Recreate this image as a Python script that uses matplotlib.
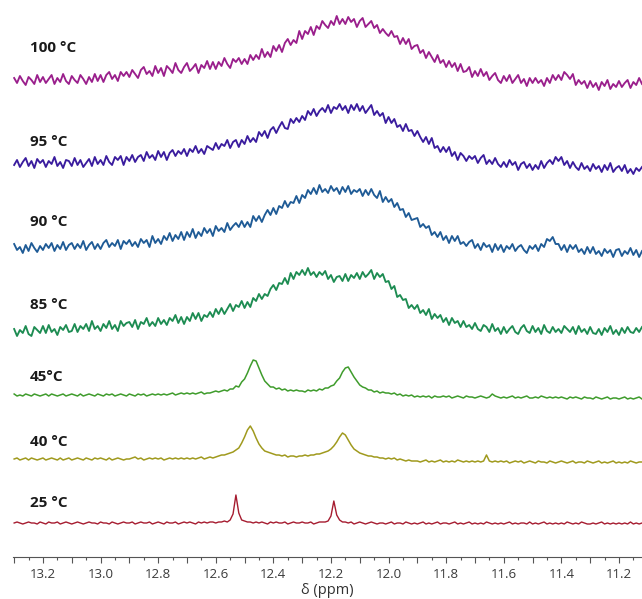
import numpy as np
import matplotlib
matplotlib.use('Agg')
import matplotlib.pyplot as plt
from matplotlib.ticker import MultipleLocator, FuncFormatter

# chemical shift grid of the spectra (ppm), 0.01 ppm steps
ppm = np.linspace(13.30, 11.12, 219)

labels = ['100 °C', '95 °C', '90 °C', '85 °C', '45°C', '40 °C', '25 °C']

# intensities (a.u.), one list per temperature
I_100 = [2, -3, 4, -1, -5, 3, 0, -4, 5, -2,
         3, -3, 1, 5, -4, 2, -2, 6, -1, -4,
         4, 0, -3, 5, 1, -4, 3, -2, 6, -1,
         5, -2, 5, 8, 1, 5, -1, 8, 4, 8,
         3, 10, 6, 2, 10, 13, 6, 9, 4, 14,
         7, 12, 4, 14, 11, 7, 17, 10, 7, 13,
         17, 9, 12, 16, 7, 15, 12, 19, 11, 18,
         11, 18, 14, 22, 16, 12, 21, 18, 22, 16,
         21, 16, 25, 20, 25, 21, 31, 23, 28, 23,
         34, 29, 35, 28, 37, 41, 35, 40, 37, 49,
         41, 49, 46, 53, 45, 54, 51, 59, 55, 52,
         59, 55, 64, 56, 61, 56, 63, 58, 61, 53,
         59, 62, 53, 56, 59, 52, 55, 47, 51, 47,
         44, 49, 43, 44, 36, 42, 36, 41, 31, 34,
         35, 27, 30, 22, 28, 23, 18, 25, 17, 20,
         13, 19, 13, 17, 9, 16, 8, 9, 13, 3,
         9, 4, 11, 4, 8, 0, 4, 7, 0, -3,
         4, -1, 5, -3, 1, 5, -3, 1, -6, 2,
         -3, 2, -3, 0, -6, 2, -3, 5, 0, 5,
         0, 8, 5, 1, 6, -5, 0, -4, -1, -8,
         -1, -7, -3, -10, -2, -6, 0, -9, -4, -7,
         -1, -7, -3, 0, -8, -2, -5, 2, -4]

I_95 = [-2, 3, -4, 1, 5, -3, 2, -5, 4, 0,
        3, -4, 2, -1, 6, -3, 1, -5, 3, 2,
        -3, 5, -2, 3, -4, 0, 4, -3, 6, -1,
        3, -2, 7, 1, -2, 6, 3, 7, -2, 6,
        2, 8, 1, 6, 8, 2, 11, 5, 8, 3,
        12, 6, 11, 3, 10, 13, 7, 12, 9, 14,
        7, 14, 11, 17, 10, 14, 9, 17, 15, 13,
        20, 14, 19, 17, 23, 15, 21, 23, 16, 23,
        19, 27, 21, 25, 21, 31, 27, 32, 25, 33,
        36, 30, 36, 41, 35, 34, 44, 40, 45, 41,
        47, 43, 52, 48, 54, 47, 52, 55, 51, 58,
        50, 56, 54, 59, 53, 57, 50, 58, 53, 59,
        52, 57, 50, 54, 58, 48, 52, 47, 50, 40,
        46, 40, 44, 36, 38, 32, 39, 32, 33, 27,
        32, 26, 21, 26, 19, 25, 15, 17, 11, 16,
        11, 16, 7, 11, 3, 10, 7, 2, 7, 4,
        7, 0, 5, 8, -1, 3, -1, 5, -1, -4,
        1, -4, 3, -2, 1, -7, -1, 1, -5, -1,
        -7, -2, -6, 2, -5, 0, 3, -1, 6, 2,
        6, -2, 2, -5, 1, -4, -7, 0, -6, -3,
        -8, -1, -6, -3, -9, -2, -7, 0, -9, -5,
        -3, -8, -2, -10, -6, -11, -5, -8, -4]

I_90 = [4, -2, 1, -5, 3, -3, 5, 0, -4, 2,
        -2, 4, 0, 5, -3, 3, -1, 6, -2, 3,
        5, -1, 4, 0, 7, -2, 3, 6, -1, 4,
        -1, 5, 8, 1, 5, 2, 8, -1, 7, 4,
        8, 2, 6, 1, 9, 5, 8, 1, 12, 5,
        9, 4, 12, 8, 15, 7, 13, 9, 16, 8,
        16, 11, 19, 10, 16, 12, 20, 15, 19, 12,
        22, 17, 20, 16, 25, 18, 22, 25, 21, 27,
        21, 26, 21, 32, 27, 32, 26, 33, 38, 33,
        40, 34, 42, 40, 47, 41, 46, 45, 52, 45,
        53, 50, 58, 54, 60, 54, 63, 56, 59, 55,
        62, 57, 60, 54, 61, 56, 62, 54, 58, 56,
        59, 52, 58, 53, 59, 53, 50, 57, 46, 51,
        46, 49, 41, 45, 38, 39, 31, 35, 28, 29,
        30, 21, 24, 20, 22, 13, 16, 11, 16, 8,
        12, 5, 12, 7, 12, 4, 6, 2, 6, 8,
        0, 4, -2, 5, 1, 3, -4, 4, -2, 3,
        -4, 2, -1, 4, -3, 1, 3, -2, -5, 2,
        -1, 3, -3, 4, 1, 9, 7, 11, 4, 4,
        -2, 3, -4, 3, -1, 3, -4, -1, -6, 1,
        -5, 1, -6, -3, -8, -1, -5, -2, -9, -2,
        -1, -8, -3, -6, 0, -7, -2, -9, -3]

I_85 = [3, -4, 2, -1, 6, -2, -4, 5, 2, -1,
        6, -1, 7, 0, 3, -3, 5, 2, 7, 0,
        1, 8, 0, 6, 3, 8, 1, 11, 3, 6,
        1, 8, 4, 11, 3, 7, 1, 11, 6, 9,
        10, 5, 12, 3, 10, 8, 14, 6, 10, 6,
        14, 8, 12, 7, 14, 11, 17, 9, 15, 8,
        15, 11, 19, 13, 19, 11, 17, 15, 20, 15,
        23, 18, 24, 18, 23, 28, 21, 27, 25, 31,
        24, 30, 25, 34, 31, 38, 33, 38, 36, 43,
        47, 42, 49, 48, 54, 48, 59, 53, 60, 57,
        62, 57, 64, 57, 60, 55, 60, 57, 61, 53,
        57, 50, 55, 56, 51, 58, 51, 57, 54, 59,
        53, 60, 55, 58, 62, 53, 59, 55, 58, 50,
        51, 43, 46, 35, 37, 32, 33, 24, 27, 23,
        27, 19, 22, 17, 23, 13, 18, 14, 17, 10,
        14, 7, 14, 9, 11, 5, 11, 5, 7, 3,
        9, 3, 1, 7, 5, 0, 8, 1, 4, -2,
        5, -1, 3, 6, 0, -2, 4, 7, 1, -1,
        6, 0, 4, -2, 7, 1, -1, 5, 0, 3,
        -1, 6, 3, 0, 5, -2, 6, 0, 3, -2,
        5, -1, -2, 3, -3, 4, 0, 6, -2, 2,
        -3, 4, -1, 5, 0, -1, 4, 0, 5]

I_45 = [1, -1, 0, -1, 1, 0, -1, 1, 0, -1,
        0, 1, -1, 1, 0, -1, 0, 1, -1, 0,
        1, 0, -1, 1, -1, 0, 1, 0, -1, 1,
        0, -1, 1, 0, 1, -1, 0, 1, 0, -1,
        1, 0, -1, 1, 0, 1, -1, 0, 1, 0,
        1, 0, 1, 0, 1, 2, 0, 1, 2, 1,
        2, 1, 2, 1, 2, 3, 1, 2, 2, 3,
        4, 3, 4, 5, 4, 6, 6, 9, 8, 13,
        16, 22, 29, 35, 34, 27, 20, 14, 11, 8,
        8, 6, 7, 5, 6, 4, 5, 4, 5, 4,
        4, 3, 5, 4, 5, 4, 6, 5, 7, 7,
        9, 10, 14, 17, 23, 27, 28, 23, 18, 14,
        10, 8, 7, 5, 5, 3, 4, 2, 3, 2,
        2, 1, 2, 0, 1, -1, 0, -1, 0, -2,
        -1, -2, -1, -2, -1, -3, -1, -2, -2, -1,
        -2, -1, -3, -2, -1, -2, -3, -1, -2, -2,
        -3, -2, -1, -2, -3, -2, 1, -1, -2, -3,
        -2, -3, -2, -1, -3, -2, -3, -2, -1, -3,
        -3, -2, -3, -1, -2, -3, -2, -3, -2, -3,
        -2, -3, -4, -2, -3, -2, -3, -4, -2, -3,
        -3, -4, -2, -3, -4, -3, -2, -4, -3, -3,
        -4, -3, -2, -4, -3, -4, -3, -2, -4]

I_40 = [0, 1, -1, 0, 1, -1, 1, 0, -1, 0,
        1, -1, 0, 1, 0, -1, 1, -1, 0, 1,
        -1, 0, 1, 0, -1, 1, 0, -1, 1, 0,
        1, 0, -1, 1, -1, 0, 1, 0, -1, 0,
        0, 1, 2, 0, 1, -1, 0, 1, 0, 1,
        0, 1, -1, 0, 1, 0, 1, 0, 1, 0,
        1, 0, 1, 0, 1, 2, 0, 1, 2, 1,
        2, 3, 4, 4, 5, 6, 7, 9, 11, 16,
        22, 29, 33, 28, 21, 15, 11, 8, 7, 6,
        5, 4, 4, 3, 4, 2, 3, 3, 2, 3,
        3, 4, 3, 4, 4, 5, 5, 6, 7, 8,
        10, 13, 17, 22, 26, 24, 19, 14, 10, 8,
        6, 5, 4, 3, 3, 2, 2, 1, 1, 0,
        1, 0, 1, -1, 0, -1, -2, -1, -2, -2,
        -2, -3, -2, -1, -3, -2, -3, -2, -1, -3,
        -2, -3, -2, -3, -1, -2, -3, -2, -3, -2,
        -3, -2, -3, -2, 4, -2, -3, -2, -3, -2,
        -3, -2, -4, -3, -2, -3, -2, -4, -3, -2,
        -3, -4, -2, -3, -3, -4, -2, -3, -4, -3,
        -2, -3, -4, -3, -2, -4, -3, -3, -4, -2,
        -3, -4, -3, -2, -4, -3, -4, -3, -2, -4,
        -3, -4, -3, -4, -2, -3, -4, -3, -3]

I_25 = [0, 1, 0, -1, 0, 1, 0, 0, -1, 1,
        0, -1, 1, 0, 0, 1, -1, 0, 1, 0,
        -1, 0, 1, 0, -1, 0, 1, 0, 0, -1,
        1, 0, 0, -1, 1, 0, -1, 0, 1, 0,
        0, 1, -1, 0, 1, 0, 0, 1, -1, 0,
        1, 0, -1, 1, 0, 0, 1, -1, 0, 1,
        0, 1, 0, -1, 1, 0, 1, 0, 1, 1,
        0, 1, 1, 2, 1, 3, 9, 28, 10, 3,
        2, 1, 1, 0, 1, 0, 1, 0, -1, 1,
        0, 1, 0, 0, 1, -1, 0, 1, 0, 0,
        1, 0, 0, 1, -1, 0, 1, 1, 1, 2,
        7, 22, 8, 3, 1, 1, 0, 1, -1, 0,
        1, 0, -1, 0, 1, 0, -1, 0, 0, -1,
        0, 1, -1, 0, 0, -1, 1, 0, -1, 0,
        -1, 0, 1, -1, 0, -1, 0, 1, -1, 0,
        0, -1, 0, 1, -1, 0, -1, 0, 1, -1,
        0, -1, 0, -1, 1, 0, -1, 0, -1, 0,
        -1, 0, 1, -1, 0, -1, 0, 0, -1, 1,
        -1, 0, -1, 0, 1, -1, 0, -1, 0, -1,
        0, -1, 1, 0, -1, 0, -1, 1, 0, -1,
        -1, 0, -1, 0, 1, -1, 0, -1, 0, -1,
        0, -1, 0, -1, 1, -1, 0, -1, 0]

spectra = [I_100, I_95, I_90, I_85, I_45, I_40, I_25]

# layout / style
offsets = [477, 394, 309, 225, 162, 98, 34]
label_y = [48, 142, 222, 305, 377, 442, 503]
colors = ['#9a1f8c', '#3a1c9e', '#1f5b96', '#1d8c52', '#3f9c2c', '#a09a1e', '#a61c30']
widths = [1.35, 1.35, 1.35, 1.35, 1.1, 1.1, 1.0]

W, H = 642, 599
fig = plt.figure(figsize=(W / 100, H / 100), dpi=100)
ax = fig.add_axes([13 / W, (H - 557) / H, 629 / W, 557 / H])

for sp, off, c, lw in zip(spectra, offsets, colors, widths):
    assert len(sp) == len(ppm)
    ax.plot(ppm, np.array(sp) + off, color=c, lw=lw)

for lab, ly in zip(labels, label_y):
    fig.text(30 / W, 1 - ly / H, lab, ha='left', va='center',
             fontsize=11, fontweight='bold', family=['Open Sans', 'DejaVu Sans'],
             color='#1a1a1a')

ax.set_xlim(13.304, 11.12)
ax.set_ylim(0, 557)
for s in ['left', 'right', 'top']:
    ax.spines[s].set_visible(False)
ax.spines['bottom'].set_color('#555555')
ax.spines['bottom'].set_linewidth(0.8)
ax.set_yticks([])
ax.xaxis.set_major_locator(MultipleLocator(0.1))
ax.xaxis.set_minor_locator(MultipleLocator(0.05))


def fmt(v, pos):
    k = int(round(v * 10))
    return '%.1f' % v if k % 2 == 0 else ''


ax.xaxis.set_major_formatter(FuncFormatter(fmt))
ax.tick_params(axis='x', which='major', length=4, width=0.8, color='#555555',
               labelsize=9.5, labelcolor='#3a3a3a', pad=4)
ax.tick_params(axis='x', which='minor', length=2.2, width=0.8, color='#555555')
for t in ax.get_xticklabels():
    t.set_family(['Open Sans', 'DejaVu Sans'])
ax.set_xlabel('δ (ppm)', fontsize=10.5, color='#333333', labelpad=1,
              family=['Open Sans', 'DejaVu Sans'])

fig.savefig('out.png', dpi=100)
